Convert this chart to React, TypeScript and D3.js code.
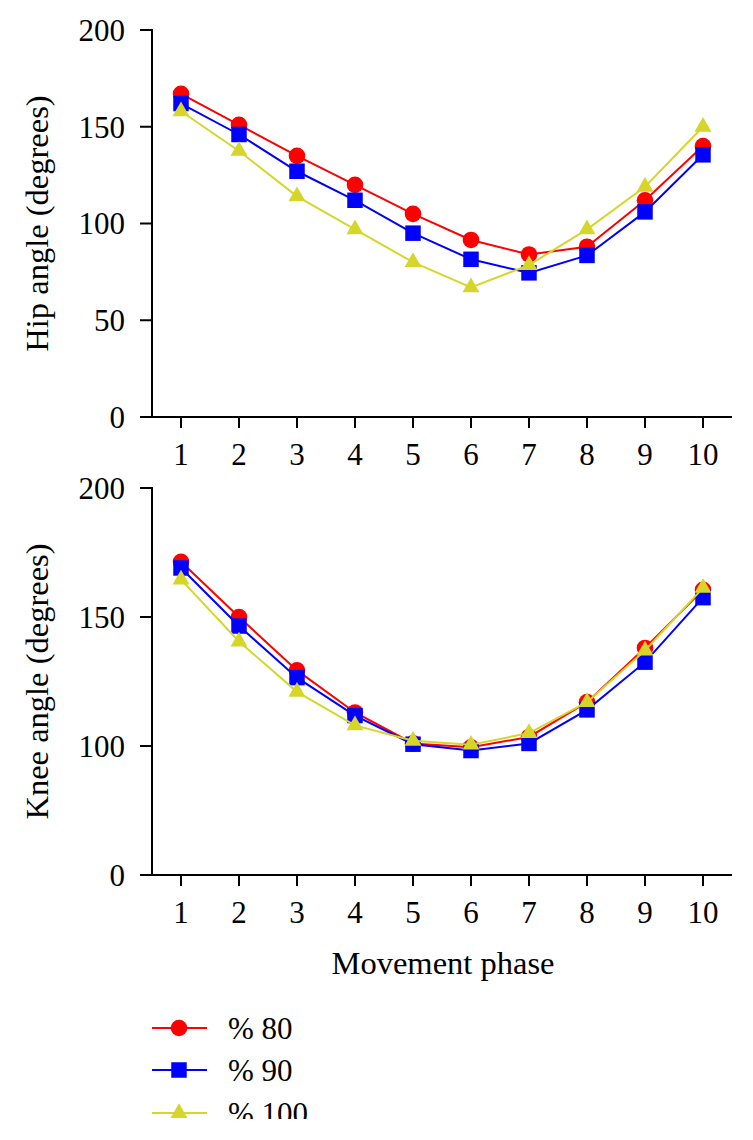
import React from "react";
import * as d3 from "d3";

const phases = [1, 2, 3, 4, 5, 6, 7, 8, 9, 10];
const seriesNames = ["% 80", "% 90", "% 100"];
const seriesColors = ["#ff0000", "#0000ff", "#d6d62a"];
const seriesSymbols = ["circle", "square", "triangle"];

const hip80 = [167, 151, 135, 120, 105, 91.5, 84, 88, 112, 140];
const hip90 = [162, 146, 127, 112, 95, 81.5, 74.5, 83.5, 106, 135.5];
const hip100 = [158, 137.5, 114, 97, 80, 67, 78.5, 97, 119, 150];

const knee80 = [171.4, 150, 129.3, 113, 101, 99, 103.5, 117, 138, 160.5];
const knee90 = [169, 146.5, 126.5, 111.8, 100.7, 96.5, 101, 114, 132.5, 157.5];
const knee100 = [164.5, 140.5, 121, 108, 102, 100.5, 105, 117, 137, 161.3];

const hipTicks = [0, 50, 100, 150, 200];
const kneeTicks = [0, 100, 150, 200];

const FONT = "'Liberation Serif', 'Times New Roman', serif";
const FS = 31;
const FT = 32.5;

function symbolPath(kind: string) {
  const t =
    kind === "circle" ? d3.symbolCircle : kind === "square" ? d3.symbolSquare : d3.symbolTriangle;
  const size = kind === "circle" ? Math.PI * 8.3 * 8.3 : kind === "square" ? 15.5 * 15.5 : 125;
  return d3.symbol().type(t).size(size)() as string;
}

function Panel({
  data,
  ticks,
  yDomain,
  yRange,
  title,
}: {
  data: number[][];
  ticks: number[];
  yDomain: number[];
  yRange: number[];
  title: string;
}) {
  const x = d3.scaleLinear().domain([1, 10]).range([181, 703]);
  const y = d3.scaleLinear().domain(yDomain).range(yRange);
  const axisX = 152;
  const axisY = yRange[0];
  const line = d3
    .line<number>()
    .x((_, i) => x(phases[i]))
    .y((v) => y(v));
  const midY = (yRange[0] + yRange[yRange.length - 1]) / 2;
  return (
    <g>
      <line x1={axisX} x2={axisX} y1={y(ticks[ticks.length - 1]) - 1} y2={axisY + 1} stroke="#000" strokeWidth={2} />
      {ticks.map((t) => (
        <g key={"yt" + t}>
          <line x1={140} x2={axisX} y1={y(t)} y2={y(t)} stroke="#000" strokeWidth={2} />
          <text x={125} y={y(t)} dy="0.35em" textAnchor="end" fontFamily={FONT} fontSize={FS}>
            {t}
          </text>
        </g>
      ))}
      <line x1={axisX - 12} x2={732} y1={axisY} y2={axisY} stroke="#000" strokeWidth={2} />
      {phases.map((p) => (
        <g key={"xt" + p}>
          <line x1={x(p)} x2={x(p)} y1={axisY} y2={axisY + 11} stroke="#000" strokeWidth={2} />
          <text x={x(p)} y={axisY + 48} textAnchor="middle" fontFamily={FONT} fontSize={FS}>
            {p}
          </text>
        </g>
      ))}
      <text
        transform={`translate(48,${midY}) rotate(-90)`}
        textAnchor="middle"
        fontFamily={FONT}
        fontSize={FT}
      >
        {title}
      </text>
      {data.map((vals, si) => (
        <g key={"s" + si}>
          <path d={line(vals) as string} fill="none" stroke={seriesColors[si]} strokeWidth={2} />
          {vals.map((v, i) => (
            <path
              key={i}
              d={symbolPath(seriesSymbols[si])}
              transform={`translate(${x(phases[i])},${y(v)})`}
              fill={seriesColors[si]}
            />
          ))}
        </g>
      ))}
    </g>
  );
}

export default function App() {
  const legendRows = [1028, 1070, 1113];
  return (
    <svg
      width={753}
      height={1140}
      style={{ position: "absolute", left: 0, top: 0, background: "#fff" }}
    >
      <rect x={0} y={0} width={753} height={1140} fill="#fff" />
      <Panel
        data={[hip80, hip90, hip100]}
        ticks={hipTicks}
        yDomain={[0, 200]}
        yRange={[417, 30]}
        title="Hip angle (degrees)"
      />
      <Panel
        data={[knee80, knee90, knee100]}
        ticks={kneeTicks}
        yDomain={[0, 100, 200]}
        yRange={[875, 746, 488]}
        title="Knee angle (degrees)"
      />
      <text x={443} y={974} textAnchor="middle" fontFamily={FONT} fontSize={FT}>
        Movement phase
      </text>
      <defs>
        <clipPath id="legclip">
          <rect x={0} y={990} width={753} height={129} />
        </clipPath>
      </defs>
      <g clipPath="url(#legclip)">
        {seriesNames.map((n, i) => (
          <g key={n}>
            <line x1={152} x2={207} y1={legendRows[i]} y2={legendRows[i]} stroke={seriesColors[i]} strokeWidth={2} />
            <path
              d={symbolPath(seriesSymbols[i])}
              transform={`translate(179,${legendRows[i]})`}
              fill={seriesColors[i]}
            />
            <text x={228} y={legendRows[i]} dy="0.35em" fontFamily={FONT} fontSize={FS}>
              {n}
            </text>
          </g>
        ))}
      </g>
    </svg>
  );
}
